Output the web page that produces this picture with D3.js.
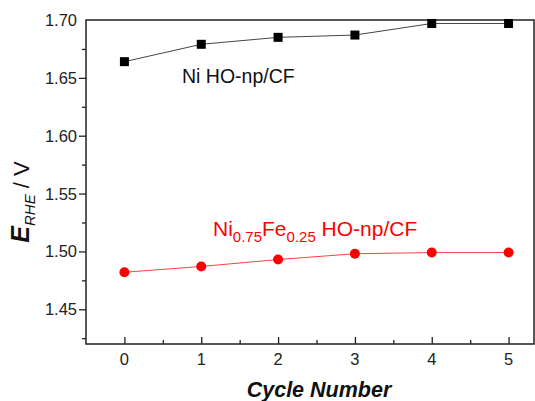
<!DOCTYPE html>
<html>
<head>
<meta charset="utf-8">
<script src="https://cdn.jsdelivr.net/npm/d3@7"></script>
<style>
  body { margin: 0; background: #fff; }
  text { font-family: Arial, "Liberation Sans", sans-serif; }
</style>
</head>
<body>
<div class="canvas"></div>
<script>
// data
const cycles = [0, 1, 2, 3, 4, 5];
const niValues = [1.664, 1.679, 1.685, 1.687, 1.697, 1.697];
const niFeValues = [1.482, 1.487, 1.493, 1.498, 1.499, 1.499];
const xTicks = [0, 1, 2, 3, 4, 5];
const yTicks = [1.45, 1.50, 1.55, 1.60, 1.65, 1.70];

const width = 535, height = 401;
const margin = {top: 20, left: 86, bottom: 57};
const right = 534;

const svg = d3.select('.canvas')
  .append('svg')
    .attr('width', width)
    .attr('height', height);

const x = d3.scaleLinear()
  .domain([-0.5, 5.5])
  .range([margin.left, 547]);

const y = d3.scaleLinear()
  .domain([1.42, 1.70])
  .range([height - margin.bottom, margin.top]);

// frame
svg.append('rect')
  .attr('x', margin.left)
  .attr('y', margin.top)
  .attr('width', right - margin.left)
  .attr('height', y(1.42) - margin.top)
  .attr('fill', 'none')
  .attr('stroke', '#222')
  .attr('stroke-width', 1.5);

// x axis: ticks point into the plot
const xAxisGroup = svg.append('g')
  .attr('transform', `translate(0, ${y(1.42)})`);
xAxisGroup.call(d3.axisTop(x).tickValues(d3.range(-0.5, 5.5, 0.5).filter(v => v > -0.5)).tickSize(4).tickFormat(''));
xAxisGroup.call(g => g.selectAll('.tick').filter(d => Number.isInteger(d)).select('line').attr('y2', -7));
xAxisGroup.select('.domain').remove();
xAxisGroup.selectAll('line').attr('stroke', '#222').attr('stroke-width', 1.3);

svg.append('g')
  .selectAll('text')
  .data(xTicks)
  .enter()
  .append('text')
    .attr('x', d => x(d))
    .attr('y', y(1.42) + 21)
    .attr('text-anchor', 'middle')
    .attr('font-size', 16.5)
    .attr('fill', '#222')
    .text(d => d);

// y axis: ticks point outward
const yAxisGroup = svg.append('g')
  .attr('transform', `translate(${margin.left}, 0)`);
yAxisGroup.call(d3.axisLeft(y).tickValues(d3.range(1.425, 1.70, 0.025)).tickSize(4).tickFormat(''));
yAxisGroup.call(g => g.selectAll('.tick').filter(d => yTicks.some(t => Math.abs(t - d) < 1e-6)).select('line').attr('x2', -7));
yAxisGroup.select('.domain').remove();
yAxisGroup.selectAll('line').attr('stroke', '#222').attr('stroke-width', 1.3);

svg.append('g')
  .selectAll('text')
  .data(yTicks)
  .enter()
  .append('text')
    .attr('x', margin.left - 9)
    .attr('y', d => y(d) + 6)
    .attr('text-anchor', 'end')
    .attr('font-size', 16.5)
    .attr('fill', '#222')
    .text(d => d.toFixed(2));

// series
const line = d3.line()
  .x((d, i) => x(cycles[i]))
  .y(d => y(d));

svg.append('path')
  .datum(niValues)
  .attr('d', line)
  .attr('fill', 'none')
  .attr('stroke', '#444')
  .attr('stroke-width', 1);

svg.append('path')
  .datum(niFeValues)
  .attr('d', line)
  .attr('fill', 'none')
  .attr('stroke', '#ff4040')
  .attr('stroke-width', 1);

svg.selectAll('rect.ni')
  .data(niValues)
  .enter()
  .append('rect')
    .attr('class', 'ni')
    .attr('x', (d, i) => x(cycles[i]) - 4.5)
    .attr('y', d => y(d) - 4.5)
    .attr('width', 9)
    .attr('height', 9)
    .attr('fill', '#000');

svg.selectAll('circle.nife')
  .data(niFeValues)
  .enter()
  .append('circle')
    .attr('class', 'nife')
    .attr('cx', (d, i) => x(cycles[i]))
    .attr('cy', d => y(d))
    .attr('r', 5)
    .attr('fill', '#ff0000');

// series labels
svg.append('text')
  .attr('x', 182)
  .attr('y', 83)
  .attr('font-size', 19.5)
  .attr('fill', '#111')
  .text('Ni HO-np/CF');

const redLabel = svg.append('text')
  .attr('x', 213)
  .attr('y', 236)
  .attr('font-size', 21)
  .attr('fill', '#ff0000');
redLabel.append('tspan').text('Ni');
redLabel.append('tspan').attr('font-size', 15).attr('dy', 6).text('0.75');
redLabel.append('tspan').attr('dy', -6).text('Fe');
redLabel.append('tspan').attr('font-size', 15).attr('dy', 6).text('0.25');
redLabel.append('tspan').attr('dy', -6).text(' HO-np/CF');

// axis titles
svg.append('text')
  .attr('x', 319)
  .attr('y', 397)
  .attr('text-anchor', 'middle')
  .attr('font-size', 21.5)
  .attr('font-weight', 'bold')
  .attr('font-style', 'italic')
  .attr('fill', '#111')
  .text('Cycle Number');

const yLabel = svg.append('text')
  .attr('transform', `translate(29, 202) rotate(-90)`)
  .attr('text-anchor', 'middle')
  .attr('fill', '#111');
yLabel.append('tspan').attr('font-size', 25).attr('font-weight', 'bold').attr('font-style', 'italic').text('E');
yLabel.append('tspan').attr('font-size', 15).attr('font-style', 'italic').attr('dy', 6).text('RHE');
yLabel.append('tspan').attr('font-size', 22).attr('dy', -6).text(' / V');
</script>
</body>
</html>
